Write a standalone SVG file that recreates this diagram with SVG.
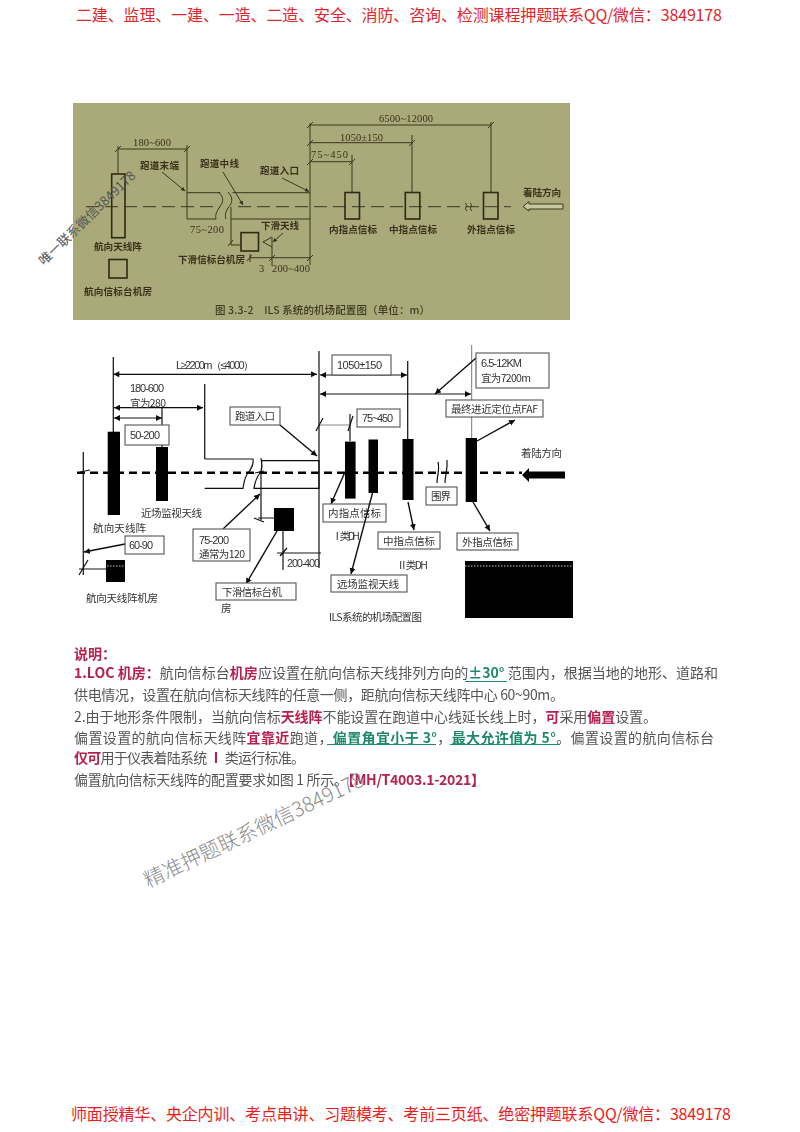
<svg xmlns="http://www.w3.org/2000/svg" width="800" height="1132" viewBox="0 0 800 1132">
<style>
text{font-family:"Noto Sans CJK SC","Liberation Sans",sans-serif}
.hd{font-size:16px;fill:#e0262c}
.t1{font-size:9.6px;fill:#38331c;font-weight:700}
.n1{font-size:10.5px;fill:#38331c;font-family:"Liberation Serif",serif}
.l1{stroke:#3a3620;stroke-width:1;fill:none}
.a1{stroke:#3a3620;stroke-width:1;fill:none;marker-end:url(#ah1)}
.b1{stroke:#2e2a14;stroke-width:1.6;fill:none}
.d1{stroke:#3a3620;stroke-width:1;fill:none;stroke-dasharray:13 6}
.t2{font-size:10.5px;fill:#333}
.n2{font-size:11px;fill:#333;font-family:"Liberation Sans",sans-serif}
.l2{stroke:#111;stroke-width:1.2;fill:none}
.a2{stroke:#111;stroke-width:1.4;fill:none;marker-end:url(#ah)}
.aa{stroke:#111;stroke-width:1.2;fill:none;marker-start:url(#ahs);marker-end:url(#ah)}
.box{fill:#fff;stroke:#555;stroke-width:1.1}
.k{fill:#000}
.w{stroke:#fff;stroke-width:.8;stroke-dasharray:1.5 1.5;fill:none}
.body{font-size:14px;fill:#555}
.r{fill:#b5224f;font-weight:700}
.g{fill:#1f8a6a;font-weight:700}
.u{stroke:#1f8a6a;stroke-width:1.2}
</style>
<defs>
<marker id="ah" markerUnits="userSpaceOnUse" markerWidth="8" markerHeight="8" refX="6" refY="3" orient="auto"><path d="M0,0L6,3L0,6Z" fill="#111"/></marker>
<marker id="ahs" markerUnits="userSpaceOnUse" markerWidth="8" markerHeight="8" refX="0" refY="3" orient="auto"><path d="M6,0L0,3L6,6Z" fill="#111"/></marker>
<marker id="ah1" markerUnits="userSpaceOnUse" markerWidth="6" markerHeight="6" refX="4" refY="2" orient="auto"><path d="M0,0L4,2L0,4Z" fill="#2e2a14"/></marker>
<filter id="soft" x="-2%" y="-2%" width="104%" height="104%"><feGaussianBlur stdDeviation="0.45"/></filter>
</defs>
<rect width="800" height="1132" fill="#fff"/>

<g id="header"><text class="hd" x="76" y="20.5" textLength="646" lengthAdjust="spacing">二建、监理、一建、一造、二造、安全、消防、咨询、检测课程押题联系QQ/微信：3849178</text></g>
<g id="footer"><text class="hd" x="71" y="1120" textLength="660" lengthAdjust="spacing" style="fill:#ec1c1c">师面授精华、央企内训、考点串讲、习题模考、考前三页纸、绝密押题联系QQ/微信：3849178</text></g>

<g id="figure-1" filter="url(#soft)">
<rect x="73" y="103" width="497" height="217" fill="#a9a979"/>
<g id="connectors-1">
<path class="d1" d="M86 206.700H511"/>
<path class="l1" d="M118 174V146M118 149H187M187 145V219H310M187 192.700H310M310 123V265M310 125H491M310 142.700H412M310 161.700H352M491 122V192M412 135V192M352 155V192"/>
<path class="l1" d="M115 152L121 146M184 152L190 146M307 128L313 122M307 146L313 140M307 165L313 159M488 128L494 122M409 146L415 140M349 165L355 159"/>
<path d="M218 190C226 197 222 203 219 208C216 213 215 216 216 220H231C230 214 232 210 234 205C236 199 234 195 231 190Z" fill="#a9a979"/>
<path class="l1" d="M218 192C226 198 222 204 219 208C216 213 215 216 216 219M228 192C234 198 232 204 228 208C225 213 225 216 226 219"/>
<path class="l1" d="M231 207V245H241M228 246L233 240M250 257.700H310M272 247V266M250 254V262M247 261L252 255M269 261L275 255M307 261L313 255"/>
<path class="a1" d="M162 172L185 191"/>
<path class="a1" d="M223 172L243 205"/>
<path class="a1" d="M282 178L309 191.500"/>
<path class="a1" d="M283 233L273 242"/>
<path class="l1" d="M465 203C469 205 463 208 467 211M470 203C474 205 468 208 472 211"/>
</g>
<g id="n-antenna"><rect class="b1" x="111.700" y="174" width="13.300" height="63.700" fill="none"/><text class="t1" x="94" y="250">航向天线阵</text></g>
<g id="n-loc-room"><rect class="b1" x="109" y="259.500" width="18" height="18.500"/><text class="t1" x="84" y="295" textLength="68">航向信标台机房</text></g>
<g id="n-gs-room"><rect class="b1" x="241" y="232.600" width="17.500" height="18.400"/><text class="t1" x="178" y="263" textLength="67">下滑信标台机房</text></g>
<g id="n-gs-ant"><path class="l1" d="M263 242L272 237V247Z"/><text class="t1" x="261" y="229" textLength="38">下滑天线</text></g>
<g id="n-inner"><rect class="b1" x="345" y="192.500" width="14.500" height="26.500"/><text class="t1" x="329" y="233" textLength="48">内指点信标</text></g>
<g id="n-middle"><rect class="b1" x="405.300" y="192.500" width="14.500" height="26.500"/><text class="t1" x="389" y="233" textLength="48">中指点信标</text></g>
<g id="n-outer"><rect class="b1" x="483.500" y="192.500" width="14.500" height="26.500"/><text class="t1" x="467" y="233" textLength="48">外指点信标</text></g>
<g id="n-dir"><text class="t1" x="523" y="196" textLength="38">着陆方向</text><path d="M563 204H529V201.500L523 206.500L529 211V209H563Z" fill="#c8c8a0" stroke="#3a3620"/></g>
<g id="labels-1">
<text class="t1" x="140" y="169" textLength="39">跑道末端</text>
<text class="t1" x="200" y="167" textLength="39">跑道中线</text>
<text class="t1" x="260" y="174" textLength="39">跑道入口</text>
<text class="n1" x="133" y="146" textLength="38">180~600</text>
<text class="n1" x="190" y="232.500" textLength="34">75~200</text>
<text class="n1" x="259" y="271.500">3</text>
<text class="n1" x="272" y="271.500" textLength="38">200~400</text>
<text class="n1" x="311" y="157.500" textLength="37">75~450</text>
<text class="n1" x="340" y="140.500" textLength="43">1050±150</text>
<text class="n1" x="379" y="121.500" textLength="54">6500~12000</text>
<text x="215" y="314" textLength="215" style="font-size:10.500px;fill:#3f3b22;font-weight:500">图 3.3-2　ILS 系统的机场配置图（单位：m）</text>
</g>
</g>

<g id="figure-2" filter="url(#soft)">
<g id="connectors-2">
<path d="M77 472.700H522" stroke="#000" stroke-width="2.500" stroke-dasharray="8 5" fill="none"/>
<path class="l2" d="M113.300 357V432M319 351V568M204.700 384V459M162 408V447M83.300 452V575M407.700 361V439M350 414V441"/>
<path d="M471.700 345V438" stroke="#777" stroke-width="1" fill="none"/>
<path class="aa" d="M113.300 374.300H317"/>
<path class="aa" d="M114 407.700H203"/>
<path class="aa" d="M114 418H162"/>
<path class="aa" d="M320 375H407"/>
<path class="aa" d="M320 394H471"/>
<path d="M319 425H350" stroke="#888" stroke-width="1" fill="none"/>
<path class="l2" d="M80 472L90 470M79 575L88 560M79 569H106M316 431L323 418M348 431L353 416"/>
<path class="l2" d="M204.700 459H253C254 464 252 468 248 473C244 478 244 483 243 488.300H204.700"/>
<path class="l2" d="M261 460.700H319V488.300H254C255 482 256 478 260 473C263 469 262 464 261 458"/>
<path class="l2" d="M261 473V520M258 518H274M254 518L264 522M255 473L264 471"/>
<path class="l2" d="M283 531V570M282 553H321M280 556L287 548M277 553H285"/>
<path class="l2" d="M438 462C440 470 437 475 437 483M447 460C448 470 445 475 445 483"/>
<path class="a2" d="M125 544L84 552"/>
<path class="a2" d="M280 425L317 456"/>
<path class="a2" d="M223 529L260 494"/>
<path class="a2" d="M277 531L246 584"/>
<path class="a2" d="M476 358L435 394"/>
<path class="a2" d="M477 441L515 420"/>
<path class="a2" d="M345 472L331 504"/>
<path class="a2" d="M408 502L414 530"/>
<path class="a2" d="M473 502L490 531"/>
<path d="M565 471.500H529V468L522 475L529 482V478.500H565Z" fill="#000"/>
</g>
<g id="n2-loc"><rect class="k" x="107.700" y="431.700" width="12.300" height="83.300"/><text class="t2" x="93" y="532" textLength="53">航向天线阵</text></g>
<g id="n2-near"><rect class="k" x="156" y="447" width="12" height="54"/><text class="t2" x="141" y="517" textLength="61">近场监视天线</text></g>
<g id="n2-room"><rect class="k" x="106" y="560" width="19" height="22"/><path class="w" d="M107 566H124"/><text class="t2" x="86" y="602" textLength="72">航向天线阵机房</text></g>
<g id="n2-gs"><rect class="k" x="274" y="508" width="20" height="23"/></g>
<g id="n2-inner"><rect class="k" x="345" y="441.600" width="10.600" height="57"/></g>
<g id="n2-far"><rect class="k" x="368.500" y="439.500" width="9.500" height="53.500"/></g>
<g id="n2-middle"><rect class="k" x="402.500" y="439" width="11" height="61"/></g>
<g id="n2-outer"><rect class="k" x="465.700" y="438" width="11.300" height="64"/></g>
<g id="b-5"><rect class="box" x="125" y="425" width="44" height="20"/><text class="n2" x="130" y="439" textLength="30">50-200</text></g>
<g id="b-6"><rect class="box" x="125" y="536" width="39" height="18"/><text class="n2" x="129" y="549" textLength="24">60-90</text></g>
<g id="b-rw"><rect class="box" x="230" y="407" width="50" height="18"/><text class="t2" x="235" y="420" textLength="40">跑道入口</text></g>
<g id="b-7"><rect class="box" x="193" y="529" width="57" height="32"/><text class="n2" x="199" y="544" textLength="30">75-200</text><text class="t2" x="199" y="558" textLength="46">通常为120</text></g>
<g id="b-gs"><rect class="box" x="216" y="583" width="80" height="17"/><text class="t2" x="222" y="596" textLength="60">下滑信标台机</text><text class="t2" x="221" y="612">房</text></g>
<g id="b-1050"><rect class="box" x="332" y="355" width="59" height="20"/><text class="n2" x="337" y="369" textLength="45">1050±150</text></g>
<g id="b-65"><rect class="box" x="476" y="353" width="73" height="35"/><text class="n2" x="481" y="367" textLength="41">6.5-12KM</text><text class="t2" x="481" y="382" textLength="50">宜为7200m</text></g>
<g id="b-faf"><rect class="box" x="446" y="400" width="97" height="17"/><text class="t2" x="451" y="413" textLength="87">最终进近定位点FAF</text></g>
<g id="b-75"><rect class="box" x="357" y="409" width="43" height="18"/><text class="n2" x="362" y="422" textLength="31">75~450</text></g>
<g id="b-in"><rect class="box" x="323" y="504" width="63" height="18"/><text class="t2" x="328" y="517" textLength="53">内指点信标</text></g>
<g id="b-far"><rect class="box" x="331" y="575" width="76" height="17"/><text class="t2" x="337" y="588" textLength="62">远场监视天线</text></g>
<g id="b-mid"><rect class="box" x="378" y="532" width="62" height="17"/><text class="t2" x="383" y="545" textLength="52">中指点信标</text></g>
<g id="b-out"><rect class="box" x="457" y="533" width="61" height="17"/><text class="t2" x="462" y="546" textLength="51">外指点信标</text></g>
<g id="b-fence"><rect class="box" x="426" y="487" width="31" height="18"/><text class="t2" x="431" y="500" textLength="20">围界</text></g>
<path id="far-arrow" class="a2" d="M372.500 493L351 574"/>
<g id="labels-2">
<text class="n2" x="176" y="369" textLength="78">L≥2200m（≤4000）</text>
<text class="n2" x="130" y="392" textLength="34">180-600</text>
<text class="t2" x="130" y="407" textLength="36">宜为280</text>
<text class="n2" x="287" y="567" textLength="33">200-400</text>
<text class="t2" x="521" y="457" textLength="41">着陆方向</text>
<text class="t2" x="332" y="540" textLength="28">Ⅰ类DH</text>
<text class="t2" x="397" y="569" textLength="31">Ⅱ类DH</text>
<text class="t2" x="329" y="621" textLength="93">ILS系统的机场配置图</text>
</g>
<g id="black-block"><rect class="k" x="465" y="561" width="108" height="57"/><path class="w" d="M465 566H573"/></g>
</g>

<g id="notes" filter="url(#soft)">
<text class="body r" x="74" y="659">说明：</text>
<text class="body" x="74" y="678" textLength="644"><tspan class="r">1.LOC 机房：</tspan>航向信标台<tspan class="r">机房</tspan>应设置在航向信标天线排列方向的<tspan class="g">±30° </tspan>范围内，根据当地的地形、道路和</text>
<text class="body" x="74" y="700" textLength="490">供电情况，设置在航向信标天线阵的任意一侧，距航向信标天线阵中心 60~90m。</text>
<text class="body" x="74" y="722" textLength="583">2.由于地形条件限制，当航向信标<tspan class="r">天线阵</tspan>不能设置在跑道中心线延长线上时，<tspan class="r">可</tspan>采用<tspan class="r">偏置</tspan>设置。</text>
<text class="body" x="74" y="743" textLength="640">偏置设置的航向信标天线阵<tspan class="r">宜靠近</tspan>跑道，<tspan class="g">偏置角宜小于 3°</tspan>，<tspan class="g">最大允许值为 5°</tspan>。偏置设置的航向信标台</text>
<text class="body" x="74" y="763" textLength="231"><tspan class="r">仅可</tspan>用于仪表着陆系统 <tspan class="r">Ⅰ</tspan> 类运行标准。</text>
<text class="body" x="74" y="785" textLength="411">偏置航向信标天线阵的配置要求如图 1 所示。<tspan class="r">【MH/T4003.1-2021】</tspan></text>
<path class="u" d="M465 681.500H507M327 744.500H436M450 744.500H560"/>
</g>

<g id="watermarks">
<text transform="translate(44 266) rotate(-44)" style="font-size:13px;fill:#555">唯一联系微信3849178</text>
<text transform="translate(148 888) rotate(-25.300)" style="font-size:20.500px;fill:#8c8c8c;font-weight:300">精准押题联系微信3849178</text>
</g>
</svg>
